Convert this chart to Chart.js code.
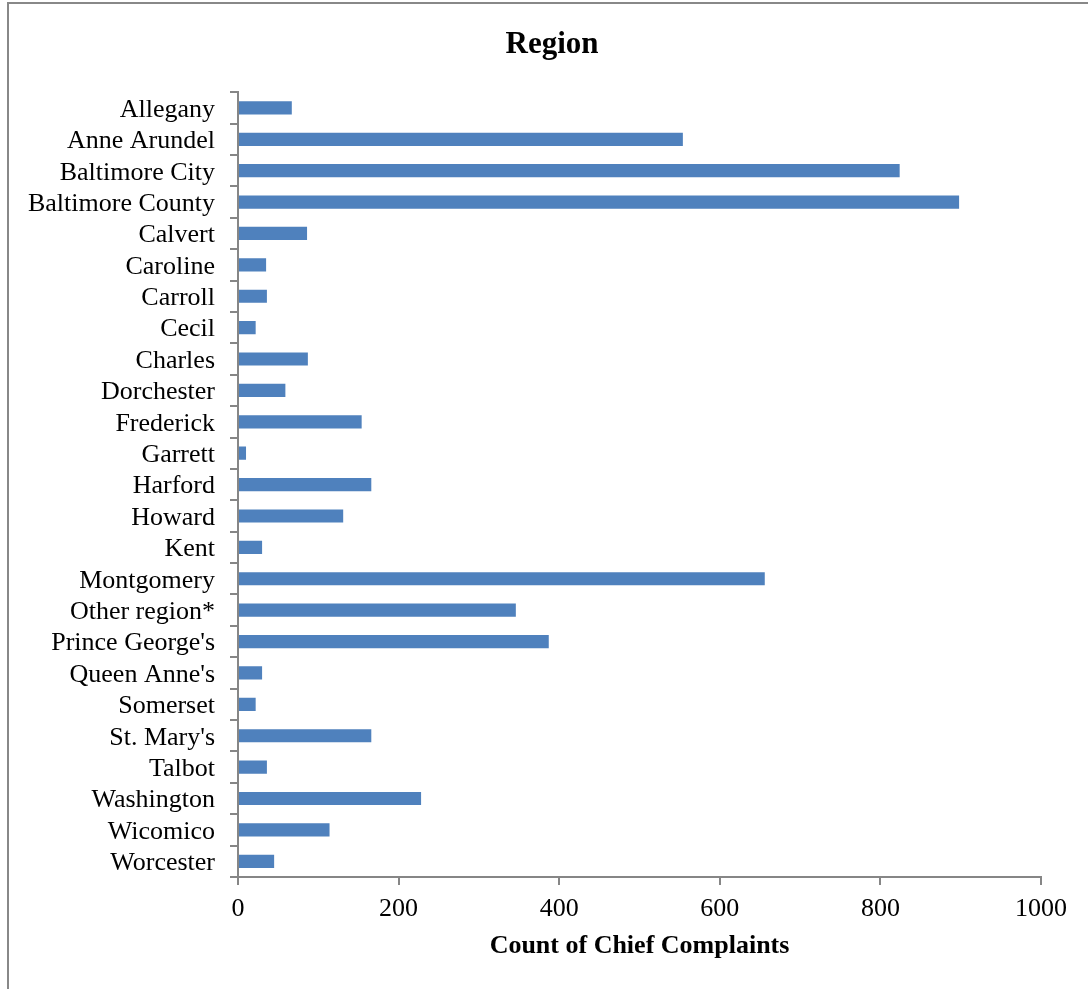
<!DOCTYPE html>
<html lang="en">
<head>
    <meta charset="UTF-8">
    <title>Region</title>
    <script src="https://cdn.jsdelivr.net/npm/chart.js"></script>
    <style>
        body { margin: 0; background: #fff; }
        #frame {
            position: absolute;
            left: 7px; top: 2px; right: -10px; bottom: -10px;
            border-left: 2px solid #888;
            border-top: 2px solid #888;
        }
        #chartContainer {
            position: absolute;
            left: 0; top: 0;
            width: 1088px; height: 989px;
        }
    </style>
</head>
<body>
    <div id="frame"></div>
    <div id="chartContainer">
        <canvas id="regionChart"></canvas>
    </div>
    <script>
        const regions = [
            'Allegany', 'Anne Arundel', 'Baltimore City', 'Baltimore County', 'Calvert',
            'Caroline', 'Carroll', 'Cecil', 'Charles', 'Dorchester', 'Frederick', 'Garrett',
            'Harford', 'Howard', 'Kent', 'Montgomery', 'Other region*', "Prince George's",
            "Queen Anne's", 'Somerset', "St. Mary's", 'Talbot', 'Washington', 'Wicomico', 'Worcester'
        ];
        const complaintCounts = [
            67, 554, 824, 898, 86,
            35, 36, 22, 87, 59, 154, 10,
            166, 131, 30, 656, 346, 387,
            30, 22, 166, 36, 228, 114, 45
        ];
        const xMin = 0;
        const xMax = 1000;
        const xStep = 200;

        const axisColor = '#868686';
        const serif = "'Liberation Serif', 'Times New Roman', serif";

        // shift the title box so "Region" sits where it does in the original
        const titleShift = {
            id: 'titleShift',
            afterLayout(chart) {
                if (chart.titleBlock) chart.titleBlock.left = 63;
            }
        };

        const ctx = document.getElementById('regionChart').getContext('2d');
        new Chart(ctx, {
            type: 'bar',
            data: {
                labels: regions,
                datasets: [{
                    label: 'Count of Chief Complaints',
                    data: complaintCounts,
                    backgroundColor: '#4F81BD',
                    borderWidth: 0,
                    barPercentage: 0.42,
                    categoryPercentage: 1.0
                }]
            },
            plugins: [titleShift],
            options: {
                indexAxis: 'y',
                responsive: true,
                maintainAspectRatio: false,
                animation: false,
                layout: {
                    padding: { left: 0, right: 47, top: 0, bottom: 0 }
                },
                plugins: {
                    legend: { display: false },
                    tooltip: { enabled: false },
                    title: {
                        display: true,
                        text: 'Region',
                        color: '#000',
                        font: { family: serif, size: 31, weight: 'bold' },
                        padding: { top: 26, bottom: 29 }
                    }
                },
                scales: {
                    x: {
                        min: xMin,
                        max: xMax,
                        ticks: {
                            stepSize: xStep,
                            color: '#000',
                            font: { family: serif, size: 26 },
                            padding: 9,
                            callback: value => String(value)
                        },
                        grid: {
                            drawOnChartArea: false,
                            drawTicks: true,
                            tickLength: 8,
                            color: axisColor,
                            lineWidth: 2
                        },
                        border: { color: axisColor, width: 2 },
                        title: {
                            display: true,
                            text: 'Count of Chief Complaints',
                            color: '#000',
                            font: { family: serif, size: 26, weight: 'bold' },
                            padding: { top: 0, bottom: 27 }
                        },
                        afterFit: function (scale) { scale.height = 112; }
                    },
                    y: {
                        offset: true,
                        ticks: {
                            color: '#000',
                            font: { family: serif, size: 26 },
                            padding: 15,
                            labelOffset: 2,
                            autoSkip: false
                        },
                        grid: {
                            offset: true,
                            drawOnChartArea: false,
                            drawTicks: true,
                            tickLength: 8,
                            color: axisColor,
                            lineWidth: 2
                        },
                        border: { color: axisColor, width: 2 },
                        afterFit: function (scale) { scale.width = 238; }
                    }
                }
            }
        });
    </script>
</body>
</html>
